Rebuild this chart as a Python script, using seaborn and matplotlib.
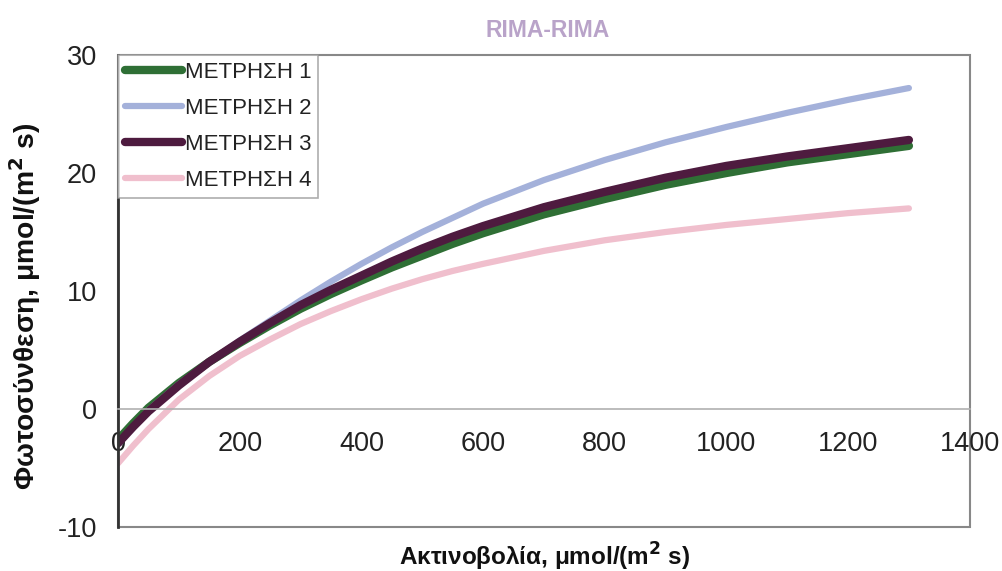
import numpy as np
import pandas as pd
import seaborn as sns
import matplotlib.pyplot as plt
from matplotlib.patches import Rectangle

# light intensity (x) and photosynthesis readings for each measurement
light = [0, 25, 50, 100, 150, 200, 250, 300, 350, 400, 450, 500, 550, 600,
         700, 800, 900, 1000, 1100, 1200, 1300]
meas_1 = [-2.6, -1.2, 0.1, 2.2, 4.0, 5.6, 7.1, 8.5, 9.75, 10.9, 12.0, 13.0, 14.0, 14.9,
          16.5, 17.8, 19.0, 20.0, 20.9, 21.6, 22.3]
meas_2 = [-3.0, -1.5, -0.1, 2.1, 4.0, 5.8, 7.5, 9.2, 10.8, 12.3, 13.7, 15.0, 16.2, 17.4,
          19.4, 21.1, 22.6, 23.9, 25.1, 26.2, 27.2]
meas_3 = [-2.9, -1.5, -0.2, 2.0, 4.0, 5.7, 7.3, 8.8, 10.1, 11.3, 12.5, 13.6, 14.6, 15.5,
          17.1, 18.4, 19.6, 20.6, 21.4, 22.1, 22.8]
meas_4 = [-4.6, -3.1, -1.7, 0.8, 2.8, 4.5, 5.9, 7.2, 8.3, 9.3, 10.2, 11.0, 11.7, 12.3,
          13.4, 14.3, 15.0, 15.6, 16.1, 16.6, 17.0]

labels = ["ΜΕΤΡΗΣΗ 1", "ΜΕΤΡΗΣΗ 2", "ΜΕΤΡΗΣΗ 3", "ΜΕΤΡΗΣΗ 4"]
colors = ["#2f6f35", "#a4b1da", "#4e1b3f", "#f0bfcd"]
widths = [6.0, 4.5, 6.0, 4.5]

sns.set_style("white")
plt.rcParams['font.family'] = ['Liberation Sans', 'DejaVu Sans']
plt.rcParams['axes.unicode_minus'] = False

fig = plt.figure(figsize=(10.02, 5.71), dpi=100)
ax = fig.add_axes([0.1178, 0.077, 0.850, 0.8267])

for vals, lab, col, lw in zip([meas_1, meas_2, meas_3, meas_4], labels, colors, widths):
    df = pd.DataFrame({"x": light, "y": vals})
    sns.lineplot(data=df, x="x", y="y", ax=ax, color=col, linewidth=lw, label=lab,
                 solid_capstyle="round")

ax.set_xlim(0, 1400)
ax.set_ylim(-10, 30)
ax.set_xticks(range(0, 1401, 200))
ax.set_yticks([-10, 0, 10, 20, 30])

# x axis runs through zero, box drawn around the plot area
for s in ["top", "right"]:
    ax.spines[s].set_visible(False)
ax.spines["bottom"].set_position(("data", 0))
ax.spines["bottom"].set_color("#b0b0b0")
ax.spines["bottom"].set_linewidth(1.2)
ax.spines["left"].set_color("#333333")
ax.spines["left"].set_linewidth(2)
ax.add_patch(Rectangle((0, 0), 1, 1, transform=ax.transAxes, fill=False,
                       edgecolor="#888888", linewidth=1.5, clip_on=False, zorder=0))

ax.tick_params(axis="x", direction="out", length=5, width=1, color="#aaaaaa",
               labelsize=19.5, pad=11, labelcolor="#222222")
ax.tick_params(axis="y", direction="out", length=6, width=1, color="#aaaaaa",
               labelsize=19.5, pad=9, labelcolor="#222222")

ax.set_xlabel("")
ax.set_ylabel("")
fig.text(0.544, 0.025, "Ακτινοβολία, μmol/(m$^\\mathbf{2}$ s)", fontsize=17.5,
         fontweight="bold", ha="center", va="center", color="#111111")
fig.text(0.025, 0.463, "Φωτοσύνθεση, μmol/(m$^\\mathbf{2}$ s)", fontsize=20.3,
         fontweight="bold", ha="center", va="center", rotation=90, color="#111111")
fig.text(0.547, 0.947, "RIMA-RIMA", fontsize=16.5, fontweight="bold",
         color="#b9a3c9", ha="center", va="center")

leg = ax.legend(loc="upper left", bbox_to_anchor=(0, 1), borderaxespad=0, fontsize=16,
                handlelength=2.6, handletextpad=0.1, labelspacing=0.68, borderpad=0.3,
                frameon=True, fancybox=False, edgecolor="#999999")
leg.get_frame().set_linewidth(1.2)
for t in leg.get_texts():
    t.set_color("#222222")

fig.savefig("out.png", dpi=100)
